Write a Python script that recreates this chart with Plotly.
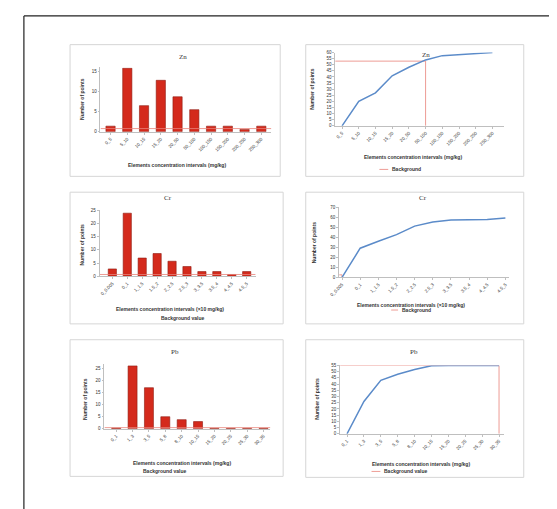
import plotly.graph_objects as go

W, H = 557, 509

# ---------------- data ----------------
zn_labels = ["0_5", "5_10", "10_15", "15_20", "20_50", "50_100", "100_150", "150_200", "200_250", "250_300"]
zn_counts = [1.4, 15.8, 6.5, 12.8, 8.7, 5.5, 1.4, 1.4, 0.6, 1.4]
zn_cum = [0, 20, 27, 41, 48, 54, 57.5, 58.5, 59, 60]
zn_bar_bg = 0.8
zn_cum_bg = 53
zn_bg_idx = 5

cr_labels = ["0_0.005", "0_1", "1_1.5", "1.5_2", "2_2.5", "2.5_3", "3_3.5", "3.5_4", "4_4.5", "4.5_5"]
cr_counts = [2.8, 23.8, 6.9, 8.6, 5.7, 3.7, 1.8, 1.8, 0.7, 1.8]
cr_cum = [0, 29, 36, 42.5, 51, 55, 57, 57.5, 57.5, 59]
cr_bar_bg = 0.7
cr_cum_bg = 2.5
cr_bg_idx = 0

pb_labels = ["0_1", "1_3", "3_5", "5_8", "8_10", "10_15", "15_20", "20_25", "25_30", "30_35"]
pb_counts = [0.3, 26, 17, 5, 3.8, 3, 0.2, 0.2, 0.2, 0.2]
pb_cum = [0, 26, 43, 48, 51.8, 54.8, 55, 55, 55, 55]
pb_bar_bg = 0.5
pb_cum_bg = 55
pb_bg_idx = 9

# ---------------- style ----------------
BAR_RED = "#d42a1c"
BAR_EDGE = "#8e1b10"
LINE_BLUE = "#5b8bc9"
BG_RED = "#e8837a"
AXIS_GRAY = "#bfbfbf"
BOX_GRAY = "#d6d6d6"
TXT = "#333333"
FONT = "Liberation Sans"

def px(x):
    return x / W

def py(y):
    return 1 - y / H

fig = go.Figure()

# panel definitions: (kind, labels, values, plot box px (x0,x1,y0,y1), xrange, yrange, dtick)
panels = [
    ("bar", zn_labels, zn_counts, (84, 258, 58, 123), [-0.6, 9.6], [0, 16], 5),
    ("cum", zn_labels, zn_cum, (323, 495, 43, 117), [-0.41, 9.7], [0, 60], 5),
    ("bar", cr_labels, cr_counts, (83, 242, 202, 269), [-0.86, 9.6], [0, 25], 5),
    ("cum", cr_labels, cr_cum, (327, 500, 199, 270), [-0.16, 9.2], [0, 70], 10),
    ("bar", pb_labels, pb_counts, (88, 257, 358, 423), [-0.72, 9.42], [0, 26.6], 5),
    ("cum", pb_labels, pb_cum, (328, 495, 359, 428), [-0.41, 9.3], [0, 55], 5),
]
bar_bgs = {0: zn_bar_bg, 2: cr_bar_bg, 4: pb_bar_bg}
cum_bgs = {1: (zn_cum_bg, zn_bg_idx), 3: (cr_cum_bg, cr_bg_idx), 5: (pb_cum_bg, pb_bg_idx)}

layout = {}
shapes = []
for i, (kind, labels, vals, box, xr, yr, dt) in enumerate(panels):
    n = i + 1
    xa = "x" if n == 1 else f"x{n}"
    ya = "y" if n == 1 else f"y{n}"
    xs = list(range(len(labels)))
    if kind == "bar":
        fig.add_trace(go.Bar(x=xs, y=vals, xaxis=xa, yaxis=ya, width=0.55,
                             marker=dict(color=BAR_RED, line=dict(color=BAR_EDGE, width=0.6)),
                             showlegend=False))
        bg = bar_bgs[i]
        fig.add_trace(go.Scatter(x=[xr[0], xr[1]], y=[bg, bg], xaxis=xa, yaxis=ya, mode="lines",
                                 line=dict(color=BG_RED, width=0.8), showlegend=False))
    else:
        bg, idx = cum_bgs[i]
        fig.add_trace(go.Scatter(x=[xr[0], idx, idx], y=[bg, bg, 0], xaxis=xa, yaxis=ya, mode="lines",
                                 line=dict(color=BG_RED, width=0.8), showlegend=False))
        fig.add_trace(go.Scatter(x=xs, y=vals, xaxis=xa, yaxis=ya, mode="lines",
                                 line=dict(color=LINE_BLUE, width=1.5), showlegend=False))
    x0, x1, y0, y1 = box
    layout[f"xaxis{'' if n == 1 else n}"] = dict(
        domain=[px(x0), px(x1)], anchor=ya, range=xr, tickmode="array", tickvals=xs, ticktext=labels,
        tickangle=-45, tickfont=dict(size=4.5, color=TXT, family=FONT), showgrid=False, zeroline=False,
        showline=True, linecolor=AXIS_GRAY, linewidth=0.8, ticks="outside", ticklen=2,
        tickcolor=AXIS_GRAY, fixedrange=True)
    layout[f"yaxis{'' if n == 1 else n}"] = dict(
        domain=[py(y1), py(y0)], anchor=xa, range=yr, dtick=dt, tick0=0,
        tickfont=dict(size=4.5, color=TXT, family=FONT), showgrid=False, zeroline=False,
        showline=True, linecolor=AXIS_GRAY, linewidth=0.8, ticks="outside", ticklen=2,
        tickcolor=AXIS_GRAY, fixedrange=True)

# panel boxes
boxes = [(53, 267, 35, 168), (293, 515, 35, 168), (53, 270, 184, 317),
         (293, 515, 184, 317), (53, 270, 333, 471), (293, 515, 333, 472)]
for (a, b, c, d) in boxes:
    shapes.append(dict(type="rect", xref="paper", yref="paper", x0=px(a), x1=px(b), y0=py(d), y1=py(c),
                       line=dict(color=BOX_GRAY, width=1), layer="below"))
# outer frame (top & left visible)
shapes.append(dict(type="line", xref="paper", yref="paper", x0=px(6), x1=1, y0=py(6), y1=py(6),
                   line=dict(color="#222222", width=1.2)))
shapes.append(dict(type="line", xref="paper", yref="paper", x0=px(6), x1=px(6), y0=0, y1=py(6),
                   line=dict(color="#222222", width=1.2)))
# legend line samples
for (lx0, lx1, ly) in [(368, 377, 161), (380, 387, 303), (360, 369, 466)]:
    shapes.append(dict(type="line", xref="paper", yref="paper", x0=px(lx0), x1=px(lx1), y0=py(ly), y1=py(ly),
                       line=dict(color=BG_RED, width=0.8)))

ann = []
def text(x, y, s, size=5, bold=False, angle=0, family=FONT, xanchor="center"):
    ann.append(dict(x=px(x), y=py(y), xref="paper", yref="paper", text=(f"<b>{s}</b>" if bold else s),
                    showarrow=False, textangle=angle, xanchor=xanchor, yanchor="middle",
                    font=dict(size=size, color=TXT, family=family)))

# titles
for (x, y, s) in [(168, 47, "Zn"), (415, 45, "Zn"), (153, 190, "Cr"), (412, 190, "Cr"),
                  (160, 345, "Pb"), (403, 345, "Pb")]:
    text(x, y, s, size=7, family="Liberation Serif")
# x axis titles
text(162, 157, "Elements concentration intervals (mg/kg)", size=5, bold=True)
text(402, 148, "Elements concentration intervals (mg/kg)", size=5, bold=True)
text(155, 302, "Elements concentration intervals (×10 mg/kg)", size=5, bold=True)
text(400, 298, "Elements concentration intervals (×10 mg/kg)", size=5, bold=True)
text(167, 457, "Elements concentration intervals (mg/kg)", size=5, bold=True)
text(410, 458, "Elements concentration intervals (mg/kg)", size=5, bold=True)
# legends / background notes
text(379, 161, "Background", size=5, bold=True, xanchor="left")
text(168, 311, "Background value", size=5, bold=True)
text(389, 303, "Background", size=5, bold=True, xanchor="left")
text(150, 466, "Background value", size=5, bold=True)
text(371, 466, "Background value", size=5, bold=True, xanchor="left")
# y axis titles
for (x, y) in [(65, 90), (300, 80), (65, 237), (301, 235), (68, 393), (305, 393)]:
    text(x, y, "Number of points", size=5, bold=True, angle=-90)

fig.update_layout(width=W, height=H, margin=dict(l=0, r=0, t=0, b=0),
                  paper_bgcolor="white", plot_bgcolor="white", showlegend=False,
                  shapes=shapes, annotations=ann, bargap=0.4, **layout)

fig.write_html("out.html")
